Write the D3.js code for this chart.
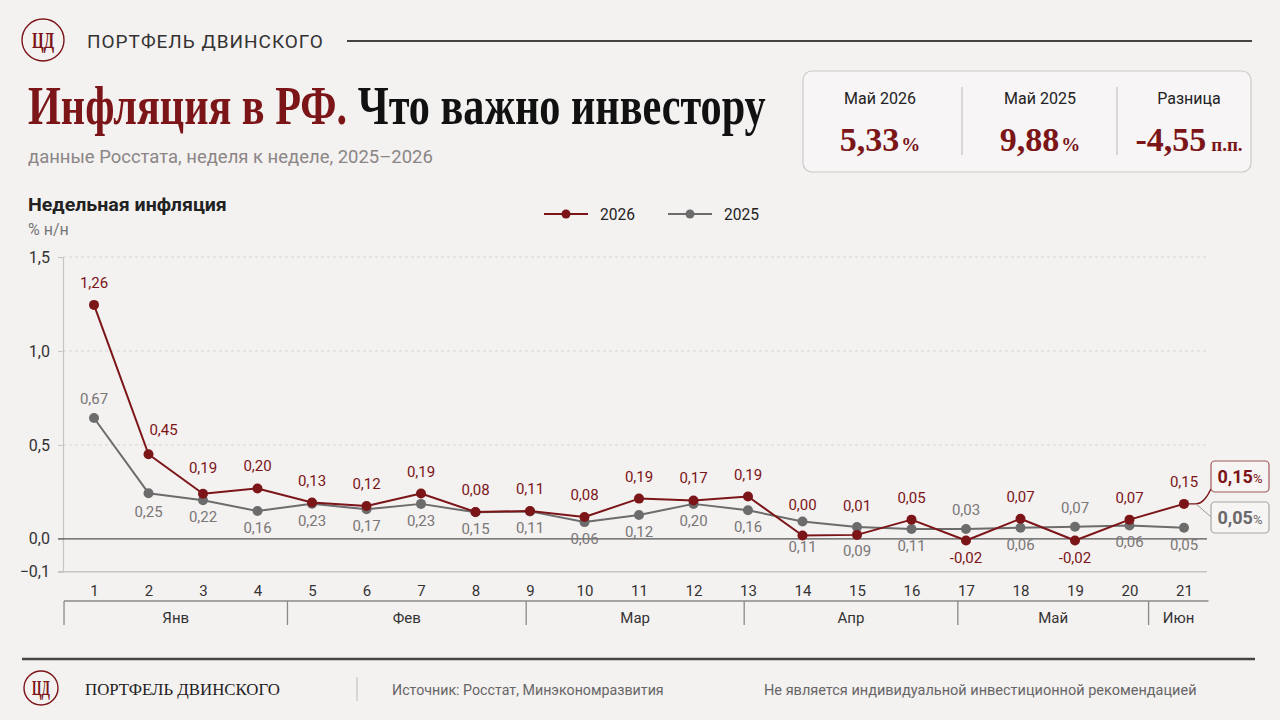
<!DOCTYPE html>
<html>
<head>
<meta charset="utf-8">
<script src="https://cdn.jsdelivr.net/npm/d3@7"></script>
<style>
  body { margin: 0; background: #f4f1f1; }
  svg { display: block; }
</style>
</head>
<body>
<div id="chart"></div>
<script>
// weeks of the year
var weeks = d3.range(1, 22);

// plotted values, % w/w
var values2026 = [1.245, 0.45, 0.24, 0.268, 0.193, 0.175, 0.241, 0.143, 0.148, 0.116, 0.214,
                  0.204, 0.225, 0.018, 0.021, 0.102, -0.009, 0.107, -0.009, 0.102, 0.186];
var values2025 = [0.643, 0.243, 0.205, 0.148, 0.187, 0.157, 0.186, 0.141, 0.146, 0.089, 0.127,
                  0.186, 0.152, 0.092, 0.063, 0.052, 0.052, 0.059, 0.064, 0.071, 0.059];

// value labels as printed on the chart
var labels2026 = ["1,26", "0,45", "0,19", "0,20", "0,13", "0,12", "0,19", "0,08", "0,11", "0,08", "0,19",
                  "0,17", "0,19", "0,00", "0,01", "0,05", "-0,02", "0,07", "-0,02", "0,07", "0,15"];
var labels2025 = ["0,67", "0,25", "0,22", "0,16", "0,23", "0,17", "0,23", "0,15", "0,11", "0,06", "0,12",
                  "0,20", "0,16", "0,11", "0,09", "0,11", "0,03", "0,06", "0,07", "0,06", "0,05"];

// months and their borders (in week units)
var months = ["Янв", "Фев", "Мар", "Апр", "Май", "Июн"];
var monthBounds = [0.45, 4.55, 8.93, 12.93, 16.85, 20.35, 21.45];

// y axis
var yMin = -0.175;
var yTicks = [yMin, 0, 0.5, 1, 1.5];
var yTickLabels = ["\u22120,1", "0,0", "0,5", "1,0", "1,5"];

// summary box
var summaryLabels = ["Май 2026", "Май 2025", "Разница"];
var summaryValues = ["5,33", "9,88", "-4,55"];
var summaryUnits = ["%", "%", "п.п."];

// last values callout
var lastLabels = ["0,15", "0,05"];

var red = "#7b1518", grey = "#6c6c6c", ink = "#222";
var sans = "Roboto, 'Noto Sans', sans-serif";
var serif = "'Liberation Serif', 'DejaVu Serif', serif";

var svg = d3.select("#chart").append("svg")
  .attr("width", 1280)
  .attr("height", 720);

svg.append("rect").attr("width", 1280).attr("height", 720).attr("fill", "#f4f1f1");

// squeeze a text to a given width: change font size to fit, then
// stretch it back vertically so it keeps its height (fake condensed face)
function fit(t, width) {
  var w = t.node().getComputedTextLength();
  var fs = +t.attr("font-size");
  var k = width / w;
  t.attr("font-size", fs * k);
  var x0 = +t.attr("x"), y0 = +t.attr("y");
  t.attr("transform", "translate(" + x0 + "," + y0 + ") scale(1," + (1 / k) + ") translate(" + (-x0) + "," + (-y0) + ")");
  return t;
}

// ---------- header
function logo(cx, cy, r, size) {
  svg.append("circle").attr("cx", cx).attr("cy", cy).attr("r", r)
    .attr("fill", "none").attr("stroke", red).attr("stroke-width", 1.4);
  var t = svg.append("text").attr("x", cx).attr("y", cy + size * 0.33)
    .attr("text-anchor", "middle")
    .attr("font-family", serif).attr("font-weight", "bold").attr("font-size", size)
    .attr("fill", red)
    .text("ЦД");
  fit(t, r * 1.05);
}
logo(43, 40, 21, 24);

fit(svg.append("text").attr("x", 87).attr("y", 48)
  .attr("font-family", sans).attr("font-size", 19).attr("fill", "#333")
  .attr("letter-spacing", 1)
  .text("ПОРТФЕЛЬ ДВИНСКОГО"), 237);
svg.append("line").attr("x1", 347).attr("x2", 1252).attr("y1", 41).attr("y2", 41)
  .attr("stroke", "#444").attr("stroke-width", 2);

var title = svg.append("text").attr("x", 28).attr("y", 124)
  .attr("font-family", serif).attr("font-weight", "bold").attr("font-size", 55);
title.append("tspan").attr("fill", red).text("Инфляция в РФ.");
title.append("tspan").attr("fill", "#111").text(" Что важно инвестору");
fit(title, 738);

fit(svg.append("text").attr("x", 28).attr("y", 163)
  .attr("font-family", sans).attr("font-size", 18).attr("fill", "#8a8686")
  .text("данные Росстата, неделя к неделе, 2025\u20132026"), 405);

// ---------- summary box
svg.append("rect").attr("x", 803).attr("y", 71).attr("width", 448).attr("height", 101)
  .attr("rx", 9).attr("fill", "#f7f5f5").attr("stroke", "#cdc8c8").attr("stroke-width", 1.2);
var colX = [880, 1040, 1189];
[962, 1117].forEach(function(x) {
  svg.append("line").attr("x1", x).attr("x2", x).attr("y1", 87).attr("y2", 155)
    .attr("stroke", "#bdb8b8").attr("stroke-width", 1);
});
summaryLabels.forEach(function(d, i) {
  svg.append("text").attr("x", colX[i]).attr("y", 104)
    .attr("text-anchor", "middle").attr("font-family", sans).attr("font-size", 16).attr("fill", ink)
    .text(d);
  var t = svg.append("text").attr("x", colX[i]).attr("y", 151)
    .attr("text-anchor", "middle").attr("font-family", serif).attr("font-weight", "bold")
    .attr("fill", red);
  t.append("tspan").attr("font-size", 34).text(summaryValues[i]);
  t.append("tspan").attr("font-size", 19).attr("dx", summaryUnits[i] == "%" ? 2 : 5).text(summaryUnits[i]);
});

// ---------- chart titles & legend
fit(svg.append("text").attr("x", 28).attr("y", 211)
  .attr("font-family", sans).attr("font-weight", "bold").attr("font-size", 19).attr("fill", ink)
  .text("Недельная инфляция"), 199);
svg.append("text").attr("x", 28).attr("y", 235)
  .attr("font-family", sans).attr("font-size", 16).attr("fill", "#777")
  .text("% н/н");

var legend = [{name: "2026", color: red, x: 544}, {name: "2025", color: grey, x: 668}];
legend.forEach(function(d) {
  svg.append("line").attr("x1", d.x).attr("x2", d.x + 44).attr("y1", 214).attr("y2", 214)
    .attr("stroke", d.color).attr("stroke-width", 2);
  svg.append("circle").attr("cx", d.x + 22).attr("cy", 214).attr("r", 4.5).attr("fill", d.color);
  fit(svg.append("text").attr("x", d.x + 56).attr("y", 220)
    .attr("font-family", sans).attr("font-size", 17).attr("fill", ink)
    .text(d.name), 35);
});

// ---------- scales
var x = d3.scaleLinear().domain([1, 21]).range([94, 1184]);
var y = d3.scaleLinear().domain([yMin, 1.5]).range([571.7, 257]);
var plotLeft = 63, plotRight = 1207;

// grid
svg.append("g").selectAll("line")
  .data([0.5, 1, 1.5]).enter().append("line")
  .attr("x1", plotLeft).attr("x2", plotRight)
  .attr("y1", function(d) { return y(d); }).attr("y2", function(d) { return y(d); })
  .attr("stroke", "#d9d4d4").attr("stroke-dasharray", "3,3").attr("stroke-width", 1);

// y axis
var yAxis = svg.append("g")
  .attr("transform", "translate(" + plotLeft + ",0)")
  .call(d3.axisLeft(y).tickValues(yTicks).tickSize(5).tickPadding(8)
    .tickFormat(function(d, i) { return yTickLabels[i]; }));
yAxis.select(".domain").attr("stroke", "#c9c4c4").attr("stroke-width", 1.2);
yAxis.selectAll(".tick line").attr("stroke", "#c9c4c4");
yAxis.selectAll(".tick text").attr("font-family", sans).attr("font-size", 16).attr("fill", "#333");

// zero line and bottom line
svg.append("line").attr("x1", plotLeft - 5).attr("x2", plotRight)
  .attr("y1", y(0)).attr("y2", y(0)).attr("stroke", "#555").attr("stroke-width", 1.2);
svg.append("line").attr("x1", plotLeft - 5).attr("x2", plotRight)
  .attr("y1", y(yMin)).attr("y2", y(yMin)).attr("stroke", "#c9c4c4").attr("stroke-width", 1.5);

// week labels
var xAxis = svg.append("g")
  .attr("transform", "translate(0," + y(yMin) + ")")
  .call(d3.axisBottom(x).tickValues(weeks).tickSize(0).tickPadding(14)
    .tickFormat(function(d) { return d; }));
xAxis.select(".domain").remove();
xAxis.selectAll(".tick text").attr("font-family", sans).attr("font-size", 15).attr("fill", "#333");

// month brackets
var mY = 601;
svg.append("line").attr("x1", x(monthBounds[0])).attr("x2", x(monthBounds[monthBounds.length - 1]))
  .attr("y1", mY).attr("y2", mY).attr("stroke", "#8d8888").attr("stroke-width", 1.3);
svg.append("g").selectAll("line")
  .data(monthBounds.slice(0, -1)).enter().append("line")
  .attr("x1", function(d) { return x(d); }).attr("x2", function(d) { return x(d); })
  .attr("y1", mY).attr("y2", mY + 24)
  .attr("stroke", "#8d8888").attr("stroke-width", 1.3);
svg.append("g").selectAll("text")
  .data(months).enter().append("text")
  .attr("x", function(d, i) { return (x(monthBounds[i]) + x(monthBounds[i + 1])) / 2; })
  .attr("y", 623)
  .attr("text-anchor", "middle").attr("font-family", sans).attr("font-size", 15).attr("fill", "#333")
  .text(function(d) { return d; });

// ---------- lines
var line = d3.line()
  .x(function(d, i) { return x(weeks[i]); })
  .y(function(d) { return y(d); });

function series(vals, color) {
  svg.append("path").datum(vals)
    .attr("fill", "none").attr("stroke", color).attr("stroke-width", 2)
    .attr("stroke-linejoin", "round")
    .attr("d", line);
  svg.append("g").selectAll("circle")
    .data(vals).enter().append("circle")
    .attr("cx", function(d, i) { return x(weeks[i]); })
    .attr("cy", function(d) { return y(d); })
    .attr("r", 5).attr("fill", color);
}
series(values2025, grey);
series(values2026, red);

// value labels: 2026 above, 2025 below, a few flipped / nudged
var redBelow = [17, 19], greyAbove = [1, 17, 19];
var redNudge = {2: [15, -2], 3: [0, -4], 14: [0, -8], 15: [0, -7]};
var greyNudge = {2: [0, 2], 14: [0, 8], 15: [0, 7]};

svg.append("g").selectAll("text")
  .data(values2025).enter().append("text")
  .attr("x", function(d, i) { var n = greyNudge[weeks[i]]; return x(weeks[i]) + (n ? n[0] : 0); })
  .attr("y", function(d, i) {
    var n = greyNudge[weeks[i]];
    var off = greyAbove.indexOf(weeks[i]) >= 0 ? -14 : 22;
    return y(d) + off + (n ? n[1] : 0);
  })
  .attr("text-anchor", "middle").attr("font-family", sans).attr("font-size", 15).attr("fill", "#7a7777")
  .text(function(d, i) { return labels2025[i]; });

svg.append("g").selectAll("text")
  .data(values2026).enter().append("text")
  .attr("x", function(d, i) { var n = redNudge[weeks[i]]; return x(weeks[i]) + (n ? n[0] : 0); })
  .attr("y", function(d, i) {
    var n = redNudge[weeks[i]];
    var off = redBelow.indexOf(weeks[i]) >= 0 ? 22 : -17;
    return y(d) + off + (n ? n[1] : 0);
  })
  .attr("text-anchor", "middle").attr("font-family", sans).attr("font-size", 15).attr("fill", red)
  .text(function(d, i) { return labels2026[i]; });

// ---------- callout for the last week
var lx = x(21), ly = y(values2026[20]);
svg.append("path")
  .attr("d", "M" + lx + "," + ly + " L" + (lx + 12) + "," + ly + " Q" + (lx + 20) + "," + ly + " " + (lx + 27) + "," + (ly - 15))
  .attr("fill", "none").attr("stroke", red).attr("stroke-width", 1.2);
svg.append("path")
  .attr("d", "M" + (lx + 13) + "," + (ly + 1) + " L" + (lx + 27) + "," + (ly + 13))
  .attr("fill", "none").attr("stroke", "#999").attr("stroke-width", 1);

var boxes = [{y: 461, stroke: "#a25b5d", color: red}, {y: 502, stroke: "#a9a5a5", color: "#6a6868"}];
boxes.forEach(function(b, i) {
  svg.append("rect").attr("x", 1211).attr("y", b.y).attr("width", 58).attr("height", 31)
    .attr("rx", 4).attr("fill", "#f7f4f4").attr("stroke", b.stroke).attr("stroke-width", 1.2);
  var t = svg.append("text").attr("x", 1240).attr("y", b.y + 22)
    .attr("text-anchor", "middle").attr("font-family", sans).attr("font-weight", "bold").attr("fill", b.color);
  t.append("tspan").attr("font-size", 18).text(lastLabels[i]);
  t.append("tspan").attr("font-size", 13).attr("font-weight", "normal").text("%");
});

// ---------- footer
svg.append("line").attr("x1", 22).attr("x2", 1255).attr("y1", 659).attr("y2", 659)
  .attr("stroke", "#444").attr("stroke-width", 2.5);
logo(41, 688, 17, 20);
fit(svg.append("text").attr("x", 85).attr("y", 695)
  .attr("font-family", serif).attr("font-size", 17).attr("fill", "#222")
  .text("ПОРТФЕЛЬ ДВИНСКОГО"), 195);
svg.append("line").attr("x1", 357).attr("x2", 357).attr("y1", 677).attr("y2", 701)
  .attr("stroke", "#bbb").attr("stroke-width", 1);
fit(svg.append("text").attr("x", 392).attr("y", 695)
  .attr("font-family", sans).attr("font-size", 15).attr("fill", "#666")
  .text("Источник: Росстат, Минэкономразвития"), 272);
fit(svg.append("text").attr("x", 764).attr("y", 695)
  .attr("font-family", sans).attr("font-size", 15).attr("fill", "#666")
  .text("Не является индивидуальной инвестиционной рекомендацией"), 433);
</script>
</body>
</html>
